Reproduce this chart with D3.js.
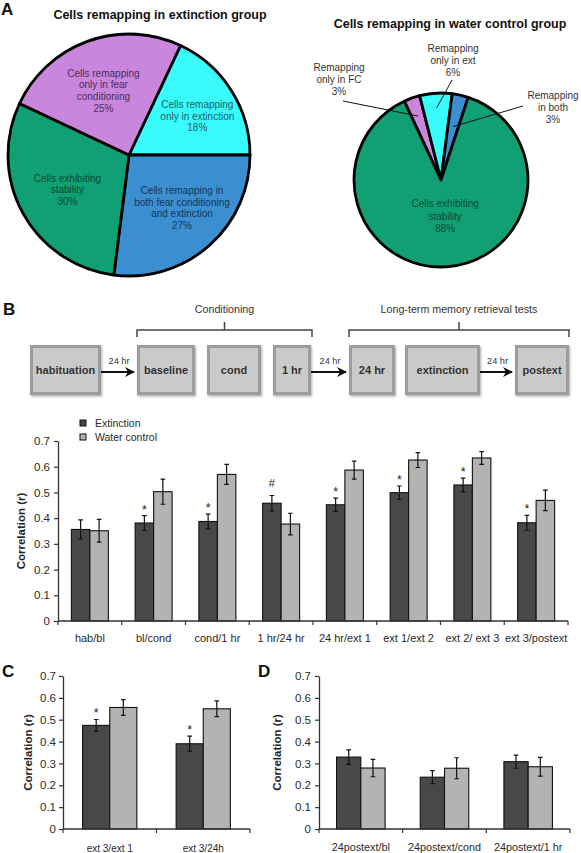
<!DOCTYPE html>
<html><head><meta charset="utf-8">
<script src="https://cdn.jsdelivr.net/npm/d3@7"></script>
<style>body{margin:0;background:#fff} svg{display:block}</style>
</head><body><svg id="c" width="581" height="853"></svg>
<script>
// ---------------- DATA ----------------
// Panel A (left pie): extinction group
const pieExtCategories = ["only in extinction", "both", "stability", "only in fear conditioning"];
const pieExtValues = [18, 27, 30, 25];
const pieExtLabels = [
  ["Cells remapping", "only in extinction", "18%"],
  ["Cells remapping in", "both fear conditioning", "and extinction", "27%"],
  ["Cells exhibiting", "stability", "30%"],
  ["Cells remapping", "only in fear", "conditioning", "25%"]
];
// Panel A (right pie): water control group
const pieWaterCategories = ["only in FC", "only in ext", "both", "stability"];
const pieWaterValues = [3, 6, 3, 88];
const pieWaterLabels = [
  ["Remapping", "only in FC", "3%"],
  ["Remapping", "only in ext", "6%"],
  ["Remapping", "in both", "3%"],
  ["Cells exhibiting", "stability", "88%"]
];
// Panel B timeline
const stages = ["habituation", "baseline", "cond", "1 hr", "24 hr", "extinction", "postext"];
const intervalLabel = "24 hr";
const brackets = ["Conditioning", "Long-term memory retrieval tests"];

// Panel B bar chart
const seriesNames = ["Extinction", "Water control"];
const bCategories = ["hab/bl", "bl/cond", "cond/1 hr", "1 hr/24 hr", "24 hr/ext 1", "ext 1/ext 2", "ext 2/ ext 3", "ext 3/postext"];
const bExtinction    = [0.356, 0.381, 0.387, 0.458, 0.452, 0.499, 0.529, 0.382];
const bExtinctionErr = [0.037, 0.029, 0.029, 0.030, 0.026, 0.026, 0.027, 0.029];
const bWater         = [0.351, 0.503, 0.570, 0.377, 0.587, 0.626, 0.634, 0.469];
const bWaterErr      = [0.044, 0.049, 0.039, 0.042, 0.035, 0.029, 0.025, 0.040];
const bMarks         = ["", "*", "*", "#", "*", "*", "*", "*"];

// Panel C
const cCategories = ["ext 3/ext 1", "ext 3/24h"];
const cExtinction    = [0.474, 0.390];
const cExtinctionErr = [0.027, 0.035];
const cWater         = [0.556, 0.550];
const cWaterErr      = [0.036, 0.036];
const cMarks         = ["*", "*"];

// Panel D
const dCategories = ["24postext/bl", "24postext/cond", "24postext/1 hr"];
const dExtinction    = [0.329, 0.237, 0.308];
const dExtinctionErr = [0.033, 0.030, 0.030];
const dWater         = [0.279, 0.278, 0.285];
const dWaterErr      = [0.040, 0.048, 0.043];
const dMarks         = ["", "", ""];

const yTicks = [0, 0.1, 0.2, 0.3, 0.4, 0.5, 0.6, 0.7];
const yLabel = "Correlation (r)";

// ---------------- STYLE ----------------
const FONT = '"Liberation Sans", Arial, Helvetica, sans-serif';
const extColors = ["#3afbfc", "#3b8ecf", "#10a073", "#c986dc"];
const extTextColors = ["#175f6a", "#16365c", "#0b4a33", "#4d2b5c"];
const waterColors = ["#c986dc", "#3afbfc", "#3b8ecf", "#10a073"];
const barColors = ["#484848", "#b3b3b3"];
const textCol = "#2a2a2a";

const svg = d3.select("#c").style("font-family", FONT);

// panel letters
[["A", 1, 15], ["B", 3, 315], ["C", 2, 677], ["D", 258, 677]].forEach(([t, x, y]) =>
  svg.append("text").attr("x", x).attr("y", y).attr("font-size", 17).attr("font-weight", "bold")
    .attr("fill", "#111").text(t));

// ---------------- PIES ----------------
function multiline(g, lines, cx, cy, size, color, lh) {
  const t = g.append("text").attr("text-anchor", "middle").attr("font-size", size).attr("fill", color);
  const first = cy - (lines.length - 1) * lh / 2 + size * 0.35;
  lines.forEach((l, i) => t.append("tspan").attr("x", cx).attr("y", first + i * lh).text(l));
}

// left pie
(function () {
  const cx = 129, cy = 155, r = 121;
  const g = svg.append("g");
  g.append("text").attr("x", 160).attr("y", 19).attr("text-anchor", "middle")
    .attr("font-size", 12.5).attr("font-weight", "bold").attr("fill", "#111")
    .text("Cells remapping in extinction group");
  const a0 = 25.2 * Math.PI / 180;
  const arcs = d3.pie().sort(null).startAngle(a0).endAngle(a0 + 2 * Math.PI)(pieExtValues);
  const arc = d3.arc().innerRadius(0).outerRadius(r);
  const pg = g.append("g").attr("transform", `translate(${cx},${cy})`);
  pg.selectAll("path").data(arcs).join("path").attr("d", arc)
    .attr("fill", (d, i) => extColors[i]).attr("stroke", "#000").attr("stroke-width", 2.8)
    .attr("stroke-linejoin", "round");
  const lab = d3.arc().innerRadius(r * 0.6).outerRadius(r * 0.6);
  const nudge = [[7, 0], [5, -1.5], [2, 0], [-1, 4]];
  arcs.forEach((d, i) => {
    const [x, y] = lab.centroid(d);
    multiline(pg, pieExtLabels[i], x + nudge[i][0], y + nudge[i][1], 10, extTextColors[i], 11.8);
  });
})();

// right pie
(function () {
  const cx = 441, cy = 180, r = 87;
  const g = svg.append("g");
  g.append("text").attr("x", 450).attr("y", 28).attr("text-anchor", "middle")
    .attr("font-size", 12.5).attr("font-weight", "bold").attr("fill", "#111")
    .text("Cells remapping in water control group");
  const a0 = -25 * Math.PI / 180;
  const arcs = d3.pie().sort(null).startAngle(a0).endAngle(a0 + 2 * Math.PI)(pieWaterValues);
  const arc = d3.arc().innerRadius(0).outerRadius(r);
  const pg = g.append("g").attr("transform", `translate(${cx},${cy})`);
  pg.selectAll("path").data(arcs).join("path").attr("d", arc)
    .attr("fill", (d, i) => waterColors[i]).attr("stroke", "#000").attr("stroke-width", 2.8)
    .attr("stroke-linejoin", "round");
  // stability label inside
  const inner = d3.arc().innerRadius(r * 0.42).outerRadius(r * 0.42);
  const [gx, gy] = inner.centroid(arcs[3]);
  multiline(pg, pieWaterLabels[3], gx + 2, gy, 10, "#0b4a33", 12.5);
  // outside labels with leader lines: [label center x, label center y, line start x, y, radius fraction]
  const outside = [[339, 79, -98, -79, 0.78], [453, 60, 11, -100, 0.83], [553, 107, 82, -74, 0.63]];
  outside.forEach((o, i) => {
    const la = d3.arc().innerRadius(r * o[4]).outerRadius(r * o[4]);
    const [ex, ey] = la.centroid(arcs[i]);
    pg.append("line").attr("x1", o[2]).attr("y1", o[3]).attr("x2", ex).attr("y2", ey)
      .attr("stroke", "#111").attr("stroke-width", 1);
    multiline(g, pieWaterLabels[i], o[0], o[1], 10, "#333", 12);
  });
})();

// ---------------- TIMELINE ----------------
(function () {
  const g = svg.append("g");
  const defs = svg.append("defs");
  const f = defs.append("filter").attr("id", "sh").attr("x", "-10%").attr("y", "-10%").attr("width", "130%").attr("height", "130%");
  f.append("feDropShadow").attr("dx", 1).attr("dy", 1.5).attr("stdDeviation", 1).attr("flood-color", "#777").attr("flood-opacity", 0.6);
  defs.append("marker").attr("id", "arr").attr("viewBox", "0 0 10 10").attr("refX", 9).attr("refY", 5)
    .attr("markerWidth", 5).attr("markerHeight", 5).attr("orient", "auto")
    .append("path").attr("d", "M0,0 L10,5 L0,10 L3,5 Z").attr("fill", "#111");
  const boxX = [[30, 101], [137, 195], [207, 261], [273, 311], [349, 395], [405, 480], [515, 569]];
  const top = 345, bot = 395;
  stages.forEach((s, i) => {
    g.append("rect").attr("x", boxX[i][0] + 1.5).attr("y", top + 1.5)
      .attr("width", boxX[i][1] - boxX[i][0] - 3).attr("height", bot - top - 3)
      .attr("fill", "#cacaca").attr("stroke", "#9c9c9c").attr("stroke-width", 3).attr("filter", "url(#sh)");
    g.append("text").attr("x", (boxX[i][0] + boxX[i][1]) / 2).attr("y", 374)
      .attr("text-anchor", "middle").attr("font-size", 11).attr("font-weight", "bold").attr("fill", "#333").text(s);
  });
  [[0, 1], [3, 4], [5, 6]].forEach(([a, b]) => {
    const x1 = boxX[a][1], x2 = boxX[b][0];
    g.append("line").attr("x1", x1).attr("x2", x2 - 3).attr("y1", 372).attr("y2", 372)
      .attr("stroke", "#111").attr("stroke-width", 2).attr("marker-end", "url(#arr)");
    g.append("text").attr("x", (x1 + x2) / 2).attr("y", 363.5).attr("text-anchor", "middle")
      .attr("font-size", 9.2).attr("fill", "#333").text(intervalLabel);
  });
  const br = [[137, 312], [349, 569]];
  br.forEach((b, i) => {
    const mid = (b[0] + b[1]) / 2;
    g.append("path").attr("d", `M${b[0]},337 V330 H${b[1]} V337 M${mid},330 V322`)
      .attr("fill", "none").attr("stroke", "#444").attr("stroke-width", 1.5);
    g.append("text").attr("x", mid).attr("y", 313).attr("text-anchor", "middle")
      .attr("font-size", 10.7).attr("fill", "#333").text(brackets[i]);
  });
})();

// ---------------- BAR CHARTS ----------------
function barChart(cfg) {
  const g = svg.append("g");
  const x0 = d3.scaleBand().domain(cfg.categories).range([cfg.left, cfg.right]).paddingInner(0.42).paddingOuter(0.21);
  const x1 = d3.scaleBand().domain([0, 1]).range([0, x0.bandwidth()]);
  const y = d3.scaleLinear().domain([0, 0.7]).range([cfg.bottom, cfg.top]);
  const vals = [cfg.ext, cfg.water], errs = [cfg.extErr, cfg.waterErr];

  // bars
  cfg.categories.forEach((c, i) => {
    [0, 1].forEach(s => {
      const v = vals[s][i];
      g.append("rect").attr("x", x0(c) + x1(s)).attr("y", y(v)).attr("width", x1.bandwidth())
        .attr("height", y(0) - y(v)).attr("fill", barColors[s]).attr("stroke", "#111").attr("stroke-width", 1.1);
    });
  });
  // error bars + marks
  cfg.categories.forEach((c, i) => {
    [0, 1].forEach(s => {
      const v = vals[s][i], e = errs[s][i];
      const xc = x0(c) + x1(s) + x1.bandwidth() / 2;
      g.append("path").attr("d", `M${xc},${y(v + e)} V${y(v - e)} M${xc - 2.3},${y(v + e)} H${xc + 2.3} M${xc - 2.3},${y(v - e)} H${xc + 2.3}`)
        .attr("stroke", "#111").attr("stroke-width", 1.2).attr("fill", "none");
      if (s === 0 && cfg.marks[i]) {
        const m = cfg.marks[i];
        g.append("text").attr("x", xc).attr("y", y(v + e) - (m === "#" ? 8.8 : 2))
          .attr("text-anchor", "middle").attr("font-size", m === "#" ? 11 : 12.5).attr("fill", "#222").text(m);
      }
    });
  });
  // y axis
  const ya = g.append("g").attr("transform", `translate(${cfg.left},0)`)
    .call(d3.axisLeft(y).tickValues(yTicks).tickFormat(d3.format("~g")).tickSize(4).tickSizeOuter(0).tickPadding(cfg.tickPad));
  ya.select(".domain").attr("stroke", "#333").attr("stroke-width", 1.3);
  ya.selectAll(".tick line").attr("stroke", "#333").attr("stroke-width", 1.2);
  ya.selectAll("text").attr("font-size", cfg.tickFont).attr("fill", textCol).attr("font-family", FONT);
  // x axis
  g.append("line").attr("x1", cfg.left).attr("x2", cfg.right).attr("y1", y(0)).attr("y2", y(0))
    .attr("stroke", "#333").attr("stroke-width", 1.3);
  const bounds = cfg.categories.map(c => x0(c) - x0.paddingOuter() * x0.step()).concat([cfg.right]);
  bounds.forEach(b => g.append("line").attr("x1", b).attr("x2", b).attr("y1", y(0)).attr("y2", y(0) + 4)
    .attr("stroke", "#333").attr("stroke-width", 1.2));
  cfg.categories.forEach(c => g.append("text").attr("x", x0(c) + x0.bandwidth() / 2).attr("y", cfg.labelY)
    .attr("text-anchor", "middle").attr("font-size", cfg.labelFont).attr("fill", textCol).text(c));
  // y label
  g.append("text").attr("transform", `translate(${cfg.yLabelX},${(cfg.top + cfg.bottom) / 2}) rotate(-90)`)
    .attr("text-anchor", "middle").attr("dy", "0.35em").attr("font-size", 11.5).attr("font-weight", "bold")
    .attr("fill", "#222").text(yLabel);
  return g;
}

barChart({ categories: bCategories, ext: bExtinction, extErr: bExtinctionErr, water: bWater, waterErr: bWaterErr, marks: bMarks,
  left: 58, right: 568, top: 441, bottom: 621, tickPad: 4, tickFont: 11.5, labelFont: 11, labelY: 642, yLabelX: 21 });
barChart({ categories: cCategories, ext: cExtinction, extErr: cExtinctionErr, water: cWater, waterErr: cWaterErr, marks: cMarks,
  left: 63, right: 250, top: 676, bottom: 829, tickPad: 3, tickFont: 11.5, labelFont: 10, labelY: 851.5, yLabelX: 28 });
barChart({ categories: dCategories, ext: dExtinction, extErr: dExtinctionErr, water: dWater, waterErr: dWaterErr, marks: dMarks,
  left: 319, right: 570, top: 676, bottom: 829, tickPad: 4, tickFont: 11.5, labelFont: 10.8, labelY: 851, yLabelX: 277 });

// legend
const lg = svg.append("g");
seriesNames.forEach((n, i) => {
  lg.append("rect").attr("x", 80).attr("y", 420 + i * 14).attr("width", 6).attr("height", 6)
    .attr("fill", barColors[i]).attr("stroke", "#111").attr("stroke-width", 1);
  lg.append("text").attr("x", 95).attr("y", 427 + i * 14).attr("font-size", 10.5).attr("fill", textCol).text(n);
});
</script></body></html>
